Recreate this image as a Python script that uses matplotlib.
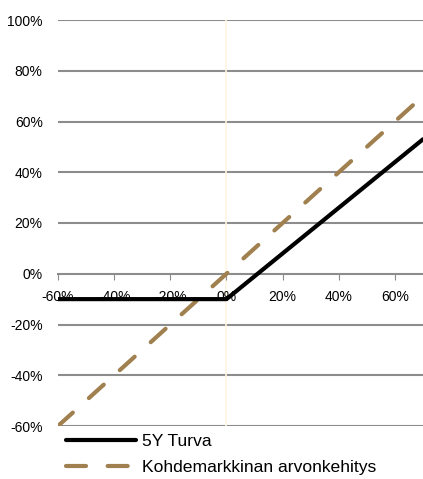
import matplotlib as mpl
import numpy as np
import matplotlib.pyplot as plt

# market development (x) vs. product return (y), in %
market = [-60, -40, -20, 0, 20, 40, 60, 70]
turva = [-10, -10, -10, -10, 8, 26, 44, 53]
kohde = [-60, -40, -20, 0, 20, 40, 60, 70]

xticks = [-60, -40, -20, 0, 20, 40, 60]
yticks = [-60, -40, -20, 0, 20, 40, 60, 80, 100]

dpi = 100
fig = plt.figure(dpi = dpi, figsize = (423 / dpi, 479 / dpi))
mpl.rcParams.update({'font.family': ['Liberation Sans', 'DejaVu Sans'], 'font.size': 9})

ax = fig.add_axes([58 / 423, 1 - 426 / 479, 1 - 58 / 423, 406 / 479])
ax.set_xlim(-60, 70)
ax.set_ylim(-60, 100)

for yv in yticks:
    if yv != 0:
        ax.axhline(yv, color = '#8c8c8c', linewidth = 1.5, zorder = 1)
ax.axvline(0, color = '#fff6e2', linewidth = 1.2, zorder = 1)

ax.plot(market, kohde, color = '#a0804f', linewidth = 3.0, linestyle = (0, (4.8, 5.2)),
        dash_capstyle = 'round', label = 'Kohdemarkkinan arvonkehitys', zorder = 3)
ax.plot(market, turva, color = 'black', linewidth = 3.0, solid_capstyle = 'round',
        label = '5Y Turva', zorder = 4)

for s in ['top', 'right', 'left']:
    ax.spines[s].set_visible(False)
ax.spines['bottom'].set_position(('data', 0))
ax.spines['bottom'].set_color('#8c8c8c')
ax.spines['bottom'].set_linewidth(1.5)

ax.set_xticks(xticks)
ax.set_xticklabels([f'{v}%' for v in xticks])
ax.set_yticks(yticks)
ax.set_yticklabels([f'{v}%' for v in yticks])
ax.tick_params(axis = 'y', length = 0, pad = 11, labelsize = 10)
ax.tick_params(axis = 'x', length = 4, color = '#8c8c8c', pad = 8, labelsize = 10)

h, l = ax.get_legend_handles_labels()
fig.legend([h[1], h[0]], [l[1], l[0]], loc = 'upper left',
           bbox_to_anchor = (66 / 423, 1 - 434 / 479), frameon = False,
           fontsize = 12.6, handlelength = 4.0, handletextpad = 0.35,
           labelspacing = 0.6, borderaxespad = 0, borderpad = 0)

fig.savefig('out.png')
